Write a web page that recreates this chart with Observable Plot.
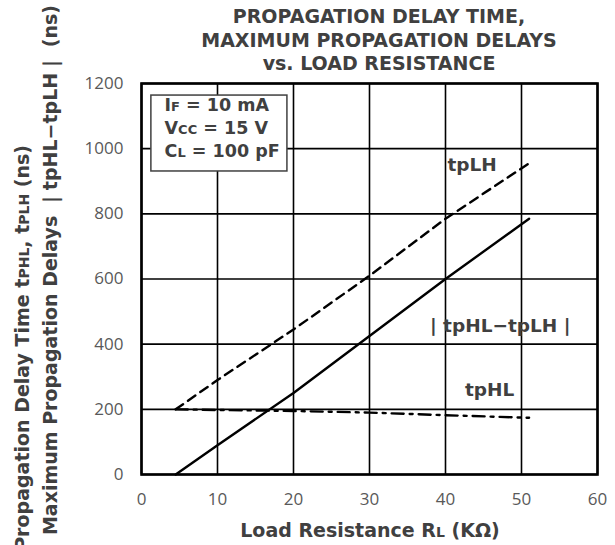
<!DOCTYPE html>
<html><head><meta charset="utf-8">
<script src="https://cdn.jsdelivr.net/npm/d3@7"></script>
<script src="https://cdn.jsdelivr.net/npm/@observablehq/plot@0.6"></script>
<style>body{margin:0;background:#fff}</style>
</head><body><div id="chart"></div>
<script>
// Data
const tpLH_R = [4.5, 10, 20, 30, 40, 51];
const tpLH_ns = [200, 290, 445, 610, 785, 955];
const diff_R = [4.5, 10, 20, 30, 40, 51];
const diff_ns = [0, 90, 250, 425, 600, 785];
const tpHL_R = [4.5, 10, 20, 30, 40, 51];
const tpHL_ns = [200, 198, 195, 190, 182, 174];
const xTicks = [0, 10, 20, 30, 40, 50, 60];
const yTicks = [0, 200, 400, 600, 800, 1000, 1200];

const toRows = (xs, ys) => xs.map((x, i) => ({x, y: ys[i]}));
const FONT = "DejaVu Sans";
const TXT = "#404040";

const labels = [
  {x: 43.5, y: 951, t: "tpLH"},
  {x: 47.2, y: 454, t: "| tpHL\u2212tpLH |"},
  {x: 45.8, y: 258, t: "tpHL"}
];

const chart = Plot.plot({
  width: 615, height: 545,
  marginLeft: 141, marginRight: 18, marginTop: 83, marginBottom: 71,
  style: {fontFamily: "Open Sans", background: "#fff"},
  x: {domain: [0, 60], ticks: xTicks},
  y: {domain: [0, 1200], ticks: yTicks},
  marks: [
    Plot.ruleX(xTicks, {stroke: "#000", strokeWidth: 1.6}),
    Plot.ruleY(yTicks, {stroke: "#000", strokeWidth: 1.6}),
    Plot.rect([{x1: 1.3, x2: 19.2, y1: 930, y2: 1163}], {x1: "x1", x2: "x2", y1: "y1", y2: "y2", fill: "#fff", stroke: "#404040", strokeWidth: 1.5}),
    Plot.line(toRows(tpLH_R, tpLH_ns), {x: "x", y: "y", stroke: "#000", strokeWidth: 2.4, strokeDasharray: "9,6"}),
    Plot.line(toRows(diff_R, diff_ns), {x: "x", y: "y", stroke: "#000", strokeWidth: 2.4}),
    Plot.line(toRows(tpHL_R, tpHL_ns), {x: "x", y: "y", stroke: "#000", strokeWidth: 2.4, strokeDasharray: "12,6,3,6"}),
    Plot.text(labels, {x: "x", y: "y", text: "t", fill: TXT, fontSize: 18.5, fontWeight: "bold", fontFamily: FONT}),
    Plot.frame({stroke: "#000", strokeWidth: 2.6}),
    Plot.axisX({ticks: xTicks, tickSize: 0, tickPadding: 18, fontSize: 17, fill: "#595959", label: null, tickFormat: d => String(d)}),
    Plot.axisY({ticks: yTicks, tickSize: 0, tickPadding: 18, fontSize: 17, fill: "#595959", label: null, tickFormat: d => String(d)})
  ]
});
document.getElementById("chart").appendChild(chart);

const svg = d3.select(chart);
const sx = chart.scale("x"), sy = chart.scale("y");

// condition box text
const box = svg.append("g").attr("font-family", FONT).attr("font-weight", "bold").attr("font-size", 17.5).attr("fill", TXT).attr("text-anchor", "start");
const boxLines = [["I", "F", " = 10 mA"], ["V", "CC", " = 15 V"], ["C", "L", " = 100 pF"]];
boxLines.forEach((l, i) => {
  const t = box.append("text").attr("x", sx.apply(3.1)).attr("y", sy.apply(1113) + i * 23);
  t.append("tspan").text(l[0]);
  t.append("tspan").attr("font-size", 13).text(l[1]);
  t.append("tspan").text(l[2]);
});

// title
const title = svg.append("g").attr("font-family", FONT).attr("font-weight", "bold").attr("font-size", 19).attr("fill", TXT).attr("text-anchor", "middle");
["PROPAGATION DELAY TIME,", "MAXIMUM PROPAGATION DELAYS", "vs. LOAD RESISTANCE"].forEach((s, i) => {
  title.append("text").attr("x", 379).attr("y", 23 + i * 23.5).text(s);
});

// x label
const xl = svg.append("text").attr("font-family", FONT).attr("font-weight", "bold").attr("font-size", 19).attr("fill", TXT)
  .attr("text-anchor", "middle").attr("x", 370).attr("y", 537);
xl.append("tspan").text("Load Resistance R");
xl.append("tspan").attr("font-size", 14).text("L");
xl.append("tspan").text(" (K\u03A9)");

// y labels
const y1 = svg.append("text").attr("font-family", FONT).attr("font-weight", "bold").attr("font-size", 19).attr("fill", TXT)
  .attr("text-anchor", "end").attr("transform", "translate(29,145) rotate(-90)");
y1.append("tspan").text("Propagation Delay Time t");
y1.append("tspan").attr("font-size", 14).text("PHL");
y1.append("tspan").text(", t");
y1.append("tspan").attr("font-size", 14).text("PLH");
y1.append("tspan").text(" (ns)");

const y2 = svg.append("text").attr("font-family", FONT).attr("font-weight", "bold").attr("font-size", 19).attr("fill", TXT)
  .attr("text-anchor", "end").attr("transform", "translate(57,5) rotate(-90)");
y2.text("Maximum Propagation Delays \uFF5CtpHL\u2212tpLH\uFF5C (ns)");
</script>
</body></html>
